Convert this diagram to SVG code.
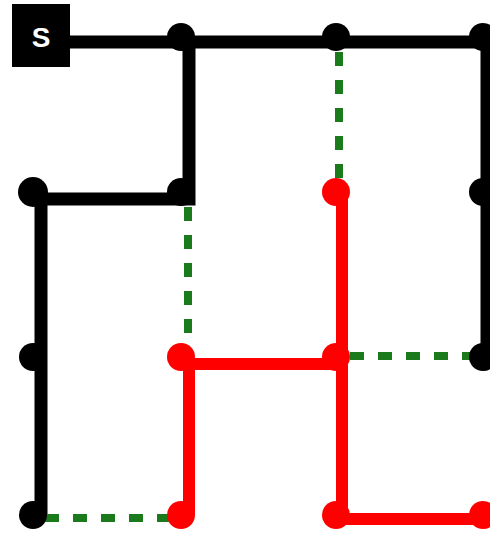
<svg xmlns="http://www.w3.org/2000/svg" width="490" height="534" viewBox="0 0 490 534">
<style>
.blk{stroke:#000;stroke-width:13;fill:none;stroke-linecap:butt}
.red{stroke:#ff0000;stroke-width:12;fill:none}
.grn{stroke:#1b7a1b;stroke-width:8;fill:none;stroke-dasharray:14 14}
.nb{fill:#000}
.nr{fill:#ff0000}
.lbl{font-family:"Liberation Sans",Arial,sans-serif;font-weight:bold;font-size:28px;fill:#fff}
</style>
<rect width="490" height="534" fill="#fff"/>
<g id="connectors">
<path class="blk" d="M60 42 H490"/>
<path class="blk" d="M189 42 V199 H41 V515"/>
<path class="blk" d="M487 42 V357"/>
<path class="grn" d="M339 52 V182"/>
<path class="grn" d="M188 207 V345"/>
<path class="grn" d="M350 356 H472"/>
<path class="grn" d="M45 518 H170"/>
<path class="red" d="M342 192 V519 H490"/>
<path class="red" d="M181 364 H342"/>
<path class="red" d="M189 364 V515"/>
</g>
<g id="node-S"><rect x="12" y="4" width="58" height="63" fill="#000"/><text class="lbl" x="41" y="47" text-anchor="middle">S</text></g>
<g id="n-1-0"><circle class="nb" cx="181" cy="37" r="14"/></g>
<g id="n-2-0"><circle class="nb" cx="336" cy="37" r="14"/></g>
<g id="n-3-0"><circle class="nb" cx="483" cy="37" r="14"/></g>
<g id="n-0-1"><circle class="nb" cx="33" cy="192" r="15"/></g>
<g id="n-1-1"><circle class="nb" cx="181" cy="192" r="14"/></g>
<g id="n-2-1"><circle class="nr" cx="336" cy="192" r="14"/></g>
<g id="n-3-1"><circle class="nb" cx="483" cy="192" r="14"/></g>
<g id="n-0-2"><circle class="nb" cx="33" cy="357" r="14"/></g>
<g id="n-1-2"><circle class="nr" cx="181" cy="357" r="14"/></g>
<g id="n-2-2"><circle class="nr" cx="336" cy="357" r="14"/></g>
<g id="n-3-2"><circle class="nb" cx="483" cy="357" r="14"/></g>
<g id="n-0-3"><circle class="nb" cx="33" cy="515" r="14"/></g>
<g id="n-1-3"><circle class="nr" cx="181" cy="515" r="14"/></g>
<g id="n-2-3"><circle class="nr" cx="336" cy="515" r="14"/></g>
<g id="n-3-3"><circle class="nr" cx="483" cy="515" r="14"/></g>
</svg>
